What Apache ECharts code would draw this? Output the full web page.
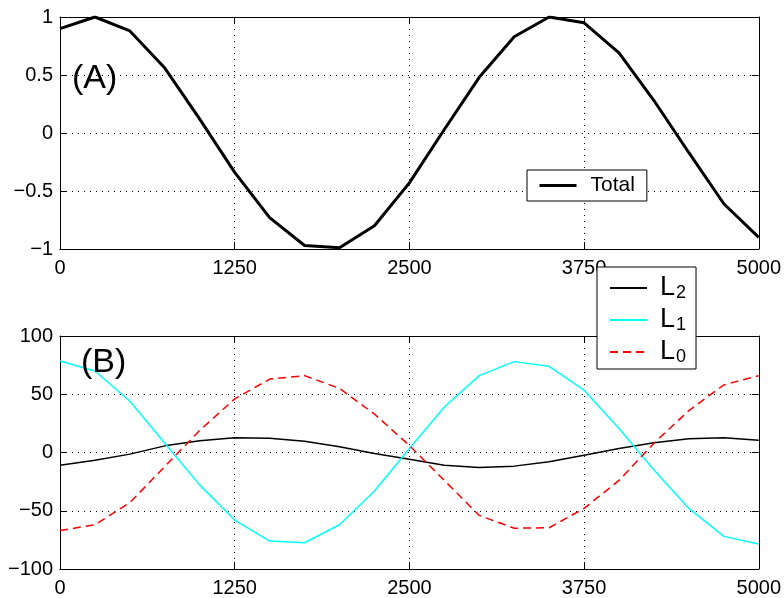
<!DOCTYPE html>
<html>
<head>
<meta charset="utf-8">
<title>Total and L0-L2</title>
<script src="https://cdn.jsdelivr.net/npm/echarts@6/dist/echarts.min.js"></script>
<style>
  html, body { margin: 0; padding: 0; background: #fff; }
  #chart { width: 784px; height: 598px; }
</style>
</head>
<body>
<div id="chart"></div>
<script>
// sample positions (x axis)
const xs = [0, 250, 500, 750, 1000, 1250, 1500, 1750, 2000, 2250, 2500,
            2750, 3000, 3250, 3500, 3750, 4000, 4250, 4500, 4750, 5000];
// panel (A)
const total = [0.90, 1.00, 0.88, 0.56, 0.12, -0.34, -0.73, -0.97, -0.99, -0.80, -0.43,
               0.03, 0.48, 0.83, 1.00, 0.95, 0.69, 0.28, -0.17, -0.61, -0.90];
// panel (B)
const l2 = [-11, -6.6, -1.4, 5.7, 10, 12.6, 12.3, 9.7, 4.9, -0.9, -5.7,
            -10.9, -12.9, -11.7, -8, -2.3, 3.4, 8.3, 11.7, 12.6, 10.6];
const l1 = [78.6, 70, 44, 8, -28, -58, -76, -77.5, -62, -33, 3.5,
            39, 66, 78, 74, 53.5, 20.6, -15, -48, -72, -78.6];
const l0 = [-67, -62, -43, -12, 19, 46, 63, 66, 55, 33, 6,
            -24, -54, -65, -64.6, -48, -24, 8, 36, 58, 66];

const FONT = 'Liberation Sans, Arial, Helvetica, sans-serif';
const pair = (a) => xs.map((x, i) => [x, a[i]]);
const minus = (v) => String(v).replace('-', '\u2212');

const tick = { show: true, inside: true, length: 7, lineStyle: { color: '#000', width: 1 } };
const axLine = { show: true, onZero: false, lineStyle: { color: '#000', width: 1 } };
const grid = { show: true, lineStyle: { color: '#000', width: 1, type: [1, 5] } };

function xAxisFor(gi, main) {
    return {
        type: 'value', gridIndex: gi, min: 0, max: 5000, interval: 1250,
        position: main ? 'bottom' : 'top',
        axisLine: axLine, axisTick: tick,
        axisLabel: { show: main, color: '#000', fontSize: 20, fontFamily: FONT, margin: 9,
                     formatter: (v) => String(v), showMinLabel: true, showMaxLabel: true },
        splitLine: main ? grid : { show: false }
    };
}
function yAxisFor(gi, main, lo, hi, step) {
    return {
        type: 'value', gridIndex: gi, min: lo, max: hi, interval: step,
        position: main ? 'left' : 'right',
        axisLine: axLine, axisTick: tick,
        axisLabel: { show: main, color: '#000', fontSize: 20, fontFamily: FONT, margin: 7,
                     formatter: minus, showMinLabel: true, showMaxLabel: true },
        splitLine: main ? grid : { show: false }
    };
}

const chart = echarts.init(document.getElementById('chart'), null, { renderer: 'canvas' });

// L with a subscript index, the way the legend shows it
const subRich = {
    l: { fontSize: 27, fontFamily: FONT, color: '#000', lineHeight: 28, verticalAlign: 'top' },
    s: { fontSize: 18, fontFamily: FONT, color: '#000', lineHeight: 18, verticalAlign: 'bottom',
         padding: [14, 0, 0, 1] }
};

chart.setOption({
    animation: false,
    backgroundColor: '#fff',
    title: [
        { text: '(A)', left: 72, top: 62, padding: 0,
          textStyle: { fontSize: 34, fontWeight: 'normal', fontFamily: FONT, color: '#000' } },
        { text: '(B)', left: 81, top: 346, padding: 0,
          textStyle: { fontSize: 34, fontWeight: 'normal', fontFamily: FONT, color: '#000' } }
    ],
    grid: [
        { left: 60, top: 17, width: 700, height: 232 },
        { left: 60, top: 336, width: 700, height: 233 }
    ],
    legend: [
        {
            data: ['Total'], left: 527, top: 170,
            padding: [5, 12, 5, 11], itemWidth: 37, itemHeight: 14,
            itemStyle: { opacity: 0 }, lineStyle: { width: 3 },
            backgroundColor: '#fff', borderColor: '#000', borderWidth: 1, borderRadius: 0,
            textStyle: { fontSize: 21, fontFamily: FONT, color: '#000', padding: [0, 0, 0, 9] },
            selectedMode: false, z: 10
        },
        {
            data: ['L2', 'L1', 'L0'], left: 597, top: 267, orient: 'vertical',
            padding: [3, 10, 3, 12], itemWidth: 37, itemHeight: 14, itemGap: 0,
            itemStyle: { opacity: 0 },
            backgroundColor: '#fff', borderColor: '#000', borderWidth: 1, borderRadius: 0,
            formatter: (name) => '{l|L}{s|' + name.slice(1) + '}',
            textStyle: { color: '#000', padding: [0, 0, 0, 8], rich: subRich },
            selectedMode: false, z: 10
        }
    ],
    xAxis: [xAxisFor(0, true), xAxisFor(0, false), xAxisFor(1, true), xAxisFor(1, false)],
    yAxis: [yAxisFor(0, true, -1, 1, 0.5), yAxisFor(0, false, -1, 1, 0.5),
            yAxisFor(1, true, -100, 100, 50), yAxisFor(1, false, -100, 100, 50)],
    series: [
        { name: 'Total', type: 'line', xAxisIndex: 0, yAxisIndex: 0, data: pair(total),
          symbol: 'none', color: '#000', lineStyle: { color: '#000', width: 3 } },
        { name: 'L2', type: 'line', xAxisIndex: 2, yAxisIndex: 2, data: pair(l2),
          symbol: 'none', color: '#000', lineStyle: { color: '#000', width: 1.5 } },
        { name: 'L1', type: 'line', xAxisIndex: 2, yAxisIndex: 2, data: pair(l1),
          symbol: 'none', color: '#00ffff', lineStyle: { color: '#00ffff', width: 1.5 } },
        { name: 'L0', type: 'line', xAxisIndex: 2, yAxisIndex: 2, data: pair(l0),
          symbol: 'none', color: '#ff0000', lineStyle: { color: '#ff0000', width: 1.5, type: [8, 5] } }
    ]
});
</script>
</body>
</html>
